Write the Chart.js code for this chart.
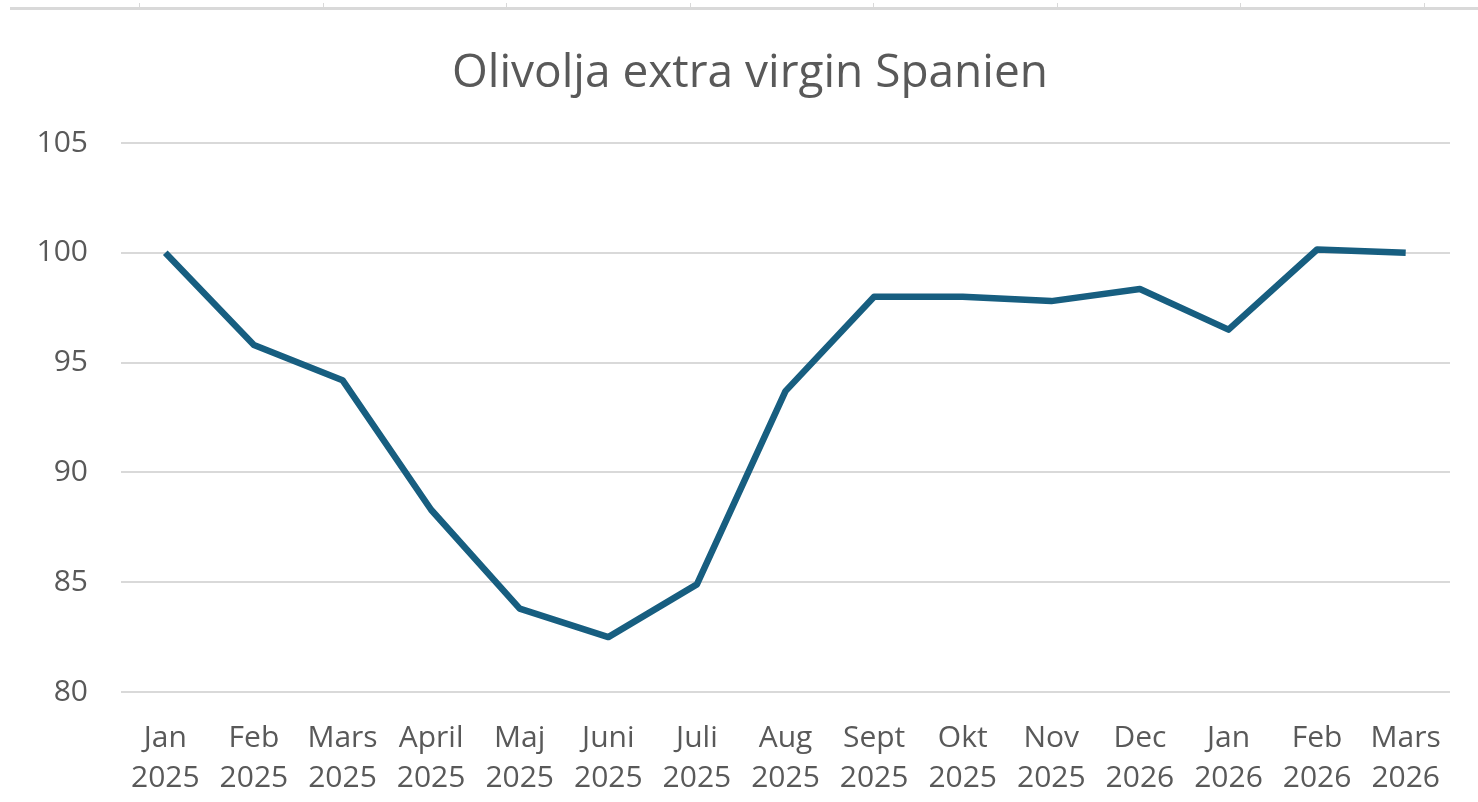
<!DOCTYPE html>
<html>
<head>
<meta charset="utf-8">
<script src="https://cdn.jsdelivr.net/npm/chart.js@4/dist/chart.umd.min.js"></script>
<style>
	html, body { margin: 0; padding: 0; background: #fff; }
	#wrap { width: 1478px; height: 802px; position: relative; }
</style>
</head>
<body>
<div id="wrap"><canvas id="c"></canvas></div>
<script>
// data
const months = ['Jan', 'Feb', 'Mars', 'April', 'Maj', 'Juni', 'Juli', 'Aug', 'Sept', 'Okt', 'Nov', 'Dec', 'Jan', 'Feb', 'Mars'];
const years = ['2025', '2025', '2025', '2025', '2025', '2025', '2025', '2025', '2025', '2025', '2025', '2026', '2026', '2026', '2026'];
const values = [100, 95.8, 94.2, 88.3, 83.8, 82.5, 84.9, 93.7, 98.0, 98.0, 97.8, 98.35, 96.5, 100.15, 100.0];
const yTicks = [80, 85, 90, 95, 100, 105];
const title = 'Olivolja extra virgin Spanien';

const labels = months.map((m, i) => [m, years[i]]);
const FONT = "'Open Sans', 'Liberation Sans', sans-serif";
const TXT = '#595959';

// grå linje högst upp (kolumnkant från kalkylbladet) + rubrik
const decor = {
	id: 'decor',
	beforeDraw(chart){
		const ctx = chart.ctx;
		ctx.save();
		ctx.strokeStyle = '#d9d9d9';
		ctx.lineWidth = 3;
		ctx.beginPath();
		ctx.moveTo(10, 8.5);
		ctx.lineTo(chart.width, 8.5);
		ctx.stroke();
		ctx.lineWidth = 1;
		for (let x = 139; x < chart.width; x += 183.5){
			ctx.beginPath();
			ctx.moveTo(Math.round(x) + 0.5, 3);
			ctx.lineTo(Math.round(x) + 0.5, 8);
			ctx.stroke();
		}
		// rubriken, centrerad över hela diagrammet
		ctx.fillStyle = TXT;
		ctx.font = '46px ' + FONT;
		ctx.textAlign = 'center';
		ctx.textBaseline = 'middle';
		ctx.fillText(title, 750, 74);
		ctx.restore();
	}
};

new Chart(document.getElementById('c'), {
	type: 'line',
	data: {
		labels: labels,
		datasets: [{
			data: values,
			borderColor: '#175e80',
			borderWidth: 6.5,
			tension: 0,
			pointRadius: 0,
			borderJoinStyle: 'round',
			borderCapStyle: 'butt',
			fill: false
		}]
	},
	options: {
		responsive: true,
		maintainAspectRatio: false,
		animation: false,
		layout: { padding: { left: 0, right: 28, top: 143, bottom: 0 } },
		plugins: {
			legend: { display: false },
			tooltip: { enabled: false },
			title: { display: false }
		},
		scales: {
			x: {
				offset: true,
				grid: { display: false, drawTicks: false },
				border: { display: false },
				ticks: {
					color: TXT,
					font: { family: FONT, size: 30, lineHeight: 40 / 30 },
					padding: 26,
					maxRotation: 0,
					autoSkip: false
				},
				afterFit(scale){ scale.height = 110; }
			},
			y: {
				min: 80,
				max: 105,
				afterBuildTicks(scale){ scale.ticks = yTicks.map(v => ({ value: v })); },
				grid: { color: '#d9d9d9', lineWidth: 2, drawTicks: false },
				border: { display: false },
				ticks: {
					color: TXT,
					font: { family: FONT, size: 30 },
					padding: 33
				},
				afterFit(scale){ scale.width = 121; }
			}
		}
	},
	plugins: [decor]
});
</script>
</body>
</html>
